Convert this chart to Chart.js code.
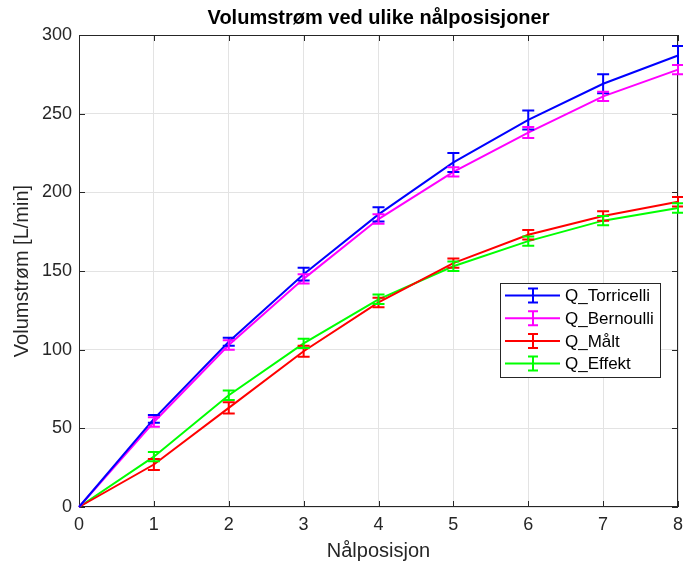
<!DOCTYPE html>
<html>
<head>
<meta charset="utf-8">
<script src="https://cdn.jsdelivr.net/npm/chart.js@4/dist/chart.umd.min.js"></script>
<style>
  html, body { margin: 0; padding: 0; background: #fff; }
</style>
</head>
<body>
<canvas id="chart" width="683" height="565"></canvas>
<script>
const positions = [0, 1, 2, 3, 4, 5, 6, 7, 8]
const qTorricelli = [0, 56, 105, 148, 186, 219, 246, 269, 287]
const qBernoulli = [0, 54, 103, 145, 183, 213, 238, 261, 278]
const qMalt = [0, 27, 63, 99, 130, 155, 173, 185, 194]
const qEffekt = [0, 32, 71, 104, 132, 153, 169, 182, 190]
const errTorricelli = [0, 2.5, 2.5, 4, 4.5, 6, 6, 6, 6]
const errBernoulli = [0, 3, 3, 3, 3, 3, 3.5, 3, 3]
const errMalt = [0, 3.5, 3.5, 3.5, 3, 3, 3, 3, 3]
const errEffekt = [0, 3, 3, 3, 3, 3, 3, 3, 3]
const seriesNames = ['Q_Torricelli', 'Q_Bernoulli', 'Q_Målt', 'Q_Effekt']
const seriesColours = ['#0000ff', '#ff00ff', '#ff0000', '#00ff00']
const chartTitle = 'Volumstrøm ved ulike nålposisjoner'

const axisColour = '#262626'
const fontFamily = '"Liberation Sans", Arial, sans-serif'

const toPoints = (ys, errs) => positions.map((x, i) => ({ x: x, y: ys[i], err: errs[i] }))

const makeSet = (i, ys, errs) => ({
  label: seriesNames[i],
  data: toPoints(ys, errs),
  borderColor: seriesColours[i],
  backgroundColor: seriesColours[i],
  borderWidth: 2,
  pointRadius: 0,
  tension: 0,
  clip: false
})

// vertical error bars with caps, the axes box with inward ticks, title and legend
const errorBars = {
  id: 'errorBars',
  beforeDatasetsDraw(chart) {
    const { ctx, chartArea: a, scales } = chart
    ctx.save()
    ctx.strokeStyle = axisColour
    ctx.lineWidth = 1
    ctx.strokeRect(a.left + 0.5, a.top + 0.5, a.right - a.left - 1, a.bottom - a.top - 1)
    ctx.beginPath()
    scales.x.ticks.forEach(t => {
      const px = Math.round(scales.x.getPixelForValue(t.value)) + 0.5
      ctx.moveTo(px, a.bottom); ctx.lineTo(px, a.bottom - 6)
      ctx.moveTo(px, a.top); ctx.lineTo(px, a.top + 6)
    })
    scales.y.ticks.forEach(t => {
      const py = Math.round(scales.y.getPixelForValue(t.value)) + 0.5
      ctx.moveTo(a.left, py); ctx.lineTo(a.left + 6, py)
      ctx.moveTo(a.right, py); ctx.lineTo(a.right - 6, py)
    })
    ctx.stroke()
    ctx.restore()
  },
  afterDatasetsDraw(chart) {
    const { ctx, scales } = chart
    ctx.save()
    ctx.lineWidth = 2
    chart.data.datasets.forEach(ds => {
      ctx.strokeStyle = ds.borderColor
      ds.data.forEach(p => {
        if (!p.err) return
        const px = scales.x.getPixelForValue(p.x)
        const top = scales.y.getPixelForValue(p.y + p.err)
        const bot = scales.y.getPixelForValue(p.y - p.err)
        ctx.beginPath()
        ctx.moveTo(px, top); ctx.lineTo(px, bot)
        ctx.moveTo(px - 6, top); ctx.lineTo(px + 6, top)
        ctx.moveTo(px - 6, bot); ctx.lineTo(px + 6, bot)
        ctx.stroke()
      })
    })
    ctx.restore()
  },
  afterDraw(chart) {
    const { ctx, chartArea: a } = chart
    ctx.save()
    // title centred over the plot area
    ctx.fillStyle = '#000'
    ctx.font = 'bold 20px ' + fontFamily
    ctx.textAlign = 'center'
    ctx.textBaseline = 'middle'
    ctx.fillText(chartTitle, (a.left + a.right) / 2, 18)

    const box = { x: 500, y: 283, w: 161, h: 95 }
    ctx.fillStyle = '#fff'
    ctx.fillRect(box.x, box.y, box.w, box.h)
    ctx.strokeStyle = axisColour
    ctx.lineWidth = 1
    ctx.strokeRect(box.x + 0.5, box.y + 0.5, box.w - 1, box.h - 1)
    ctx.font = '17px ' + fontFamily
    ctx.textAlign = 'left'
    chart.data.datasets.forEach((ds, i) => {
      const y = box.y + 12.5 + i * 22.7
      ctx.strokeStyle = ds.borderColor
      ctx.lineWidth = 2
      ctx.beginPath()
      ctx.moveTo(505, y); ctx.lineTo(560, y)
      ctx.moveTo(533, y - 7); ctx.lineTo(533, y + 7)
      ctx.moveTo(528, y - 7); ctx.lineTo(538, y - 7)
      ctx.moveTo(528, y + 7); ctx.lineTo(538, y + 7)
      ctx.stroke()
      ctx.fillStyle = '#000'
      ctx.fillText(ds.label, 565, y + 1)
    })
    ctx.restore()
  }
}

new Chart(document.getElementById('chart'), {
  type: 'line',
  data: {
    datasets: [
      makeSet(0, qTorricelli, errTorricelli),
      makeSet(1, qBernoulli, errBernoulli),
      makeSet(2, qMalt, errMalt),
      makeSet(3, qEffekt, errEffekt)
    ]
  },
  options: {
    responsive: false,
    animation: false,
    layout: { padding: { left: 0, right: 0, top: 35, bottom: 0 } },
    plugins: {
      legend: { display: false },
      tooltip: { enabled: false }
    },
    scales: {
      x: {
        type: 'linear',
        min: 0,
        max: 8,
        ticks: {
          stepSize: 1,
          color: axisColour,
          padding: 7,
          maxRotation: 0,
          font: { family: fontFamily, size: 18 }
        },
        grid: { color: '#e3e3e3', drawTicks: false },
        border: { display: false },
        title: {
          display: true,
          text: 'Nålposisjon',
          color: axisColour,
          font: { family: fontFamily, size: 20 },
          padding: { top: 0, bottom: 2 }
        },
        afterFit(scale) {
          scale.height = 58
          scale.paddingLeft = 0
          scale.paddingRight = 5
        }
      },
      y: {
        min: 0,
        max: 300,
        ticks: {
          stepSize: 50,
          color: axisColour,
          padding: 7,
          font: { family: fontFamily, size: 18 }
        },
        grid: { color: '#e3e3e3', drawTicks: false },
        border: { display: false },
        title: {
          display: true,
          text: 'Volumstrøm [L/min]',
          color: axisColour,
          font: { family: fontFamily, size: 20 },
          padding: { top: 10, bottom: 0 }
        },
        afterFit(scale) { scale.width = 79 }
      }
    }
  },
  plugins: [errorBars]
})
</script>
</body>
</html>
